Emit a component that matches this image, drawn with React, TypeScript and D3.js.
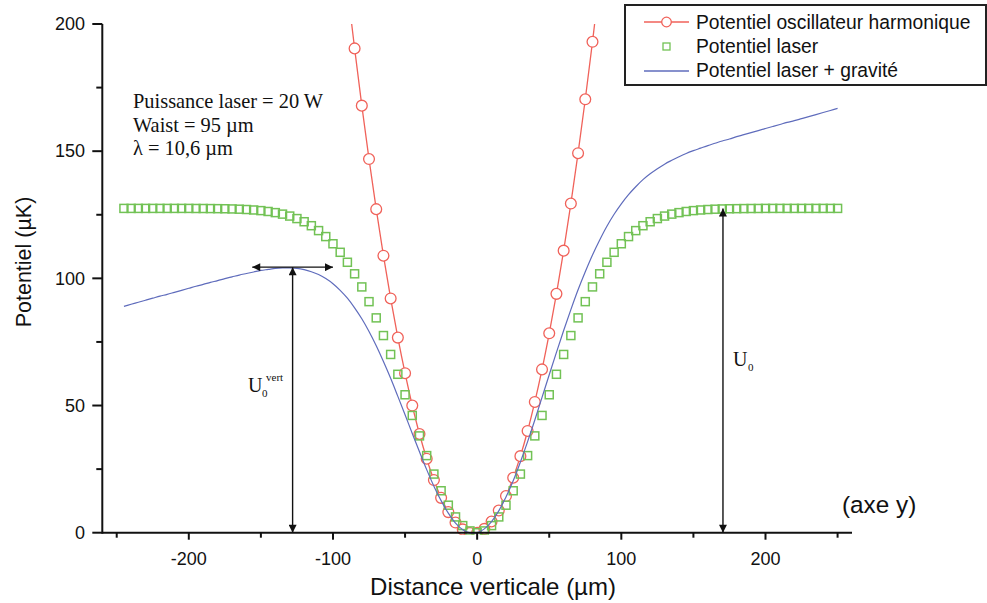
import React from "react";
import * as d3 from "d3";

// ---------- data ----------
const X_GRID = [
  -245, -240, -235, -230, -225, -220, -215, -210, -205, -200,
  -195, -190, -185, -180, -175, -170, -165, -160, -155, -150,
  -145, -140, -135, -130, -125, -120, -115, -110, -105, -100,
  -95, -90, -85, -80, -75, -70, -65, -60, -55, -50,
  -45, -40, -35, -30, -25, -20, -15, -10, -5, 0,
  5, 10, 15, 20, 25, 30, 35, 40, 45, 50,
  55, 60, 65, 70, 75, 80, 85, 90, 95, 100,
  105, 110, 115, 120, 125, 130, 135, 140, 145, 150,
  155, 160, 165, 170, 175, 180, 185, 190, 195, 200,
  205, 210, 215, 220, 225, 230, 235, 240, 245, 250,
];

const LASER = [
  127.5, 127.5, 127.5, 127.5, 127.5, 127.5, 127.5, 127.5, 127.5, 127.5,
  127.47, 127.46, 127.43, 127.4, 127.36, 127.29, 127.19, 127.06, 126.88, 126.63,
  126.29, 125.84, 125.25, 124.49, 123.5, 122.26, 120.7, 118.77, 116.42, 113.6,
  110.24, 106.32, 101.79, 96.63, 90.84, 84.46, 77.51, 70.08, 62.28, 54.23,
  46.1, 38.06, 30.31, 23.05, 16.49, 10.81, 6.2, 2.79, 0.7, 0,
  0.7, 2.79, 6.2, 10.81, 16.49, 23.05, 30.31, 38.06, 46.1, 54.23,
  62.28, 70.08, 77.51, 84.46, 90.84, 96.63, 101.79, 106.32, 110.24, 113.6,
  116.42, 118.77, 120.7, 122.26, 123.5, 124.49, 125.25, 125.84, 126.29, 126.63,
  126.88, 127.06, 127.19, 127.29, 127.36, 127.4, 127.43, 127.46, 127.47, 127.5,
  127.5, 127.5, 127.5, 127.5, 127.5, 127.5, 127.5, 127.5, 127.5, 127.5,
];

const LASER_GRAVITY = [
  89.0, 89.8, 90.6, 91.4, 92.2, 93.0, 93.7, 94.5, 95.3, 96.1,
  96.9, 97.6, 98.4, 99.1, 99.9, 100.6, 101.3, 101.9, 102.5, 103.1,
  103.5, 103.9, 104.1, 104.1, 103.9, 103.4, 102.6, 101.5, 99.9, 97.9,
  95.3, 92.2, 88.4, 84.1, 79.1, 73.5, 67.3, 60.7, 53.6, 46.4,
  39.0, 31.8, 24.8, 18.3, 12.6, 7.7, 3.8, 1.2, -0.1, 0,
  1.5, 4.4, 8.6, 14.0, 20.4, 27.8, 35.8, 44.3, 53.2, 62.1,
  70.9, 79.5, 87.7, 95.5, 102.6, 109.2, 115.1, 120.5, 125.2, 129.3,
  132.9, 136.0, 138.8, 141.1, 143.1, 144.9, 146.4, 147.8, 149.1, 150.2,
  151.2, 152.2, 153.1, 154.0, 154.8, 155.7, 156.5, 157.3, 158.1, 158.9,
  159.7, 160.5, 161.3, 162.0, 162.8, 163.6, 164.4, 165.2, 166.0, 166.8,
];

const HARM_X = [
  -90, -85, -80, -75, -70, -65, -60, -55, -50, -45, -40, -35, -30, -25, -20, -15, -10, -5,
  0, 5, 10, 15, 20, 25, 30, 35, 40, 45, 50, 55, 60, 65, 70, 75, 80, 85,
];
const HARMONIC = [
  214.3, 190.4, 167.9, 146.9, 127.2, 108.9, 92.1, 76.7, 62.7, 50.0, 38.8, 29.1, 20.7, 13.7, 8.1, 4.0, 1.3, -0.1,
  0, 1.5, 4.4, 8.7, 14.4, 21.6, 30.1, 40.0, 51.4, 64.2, 78.4, 93.9, 110.9, 129.4, 149.2, 170.4, 193.0, 217.1,
];

const X_TICKS = [-200, -100, 0, 100, 200];
const X_MINOR = [-250, -150, -50, 50, 150, 250];
const Y_TICKS = [0, 50, 100, 150, 200];
const Y_MINOR = [25, 75, 125, 175];

const LEGEND = [
  "Potentiel oscillateur harmonique",
  "Potentiel laser",
  "Potentiel laser + gravité",
];
const INFO_LINES = ["Puissance laser = 20 W", "Waist = 95 µm", "λ = 10,6 µm"];

// annotation anchors in data units
const U0_VERT_X = -128;
const U0_VERT_TOP = 104.4;
const BAR_X0 = -156;
const BAR_X1 = -100;
const U0_X = 170.5;
const U0_TOP = 127.5;

// ---------- layout ----------
const W = 987;
const H = 603;
const SANS = "'Liberation Sans', Arial, Helvetica, sans-serif";
const SERIF = "'Liberation Serif', 'Times New Roman', serif";
const RED = "#f0625a";
const GREEN = "#72c255";
const BLUE = "#5f6cbc";

export default function App() {
  const x = d3.scaleLinear().domain([-260, 260]).range([102.3, 852]);
  const y = d3.scaleLinear().domain([0, 200]).range([532.7, 24]);

  const laserPts = X_GRID.map((v, i) => [v, LASER[i]] as [number, number]);
  const gravPts = X_GRID.map((v, i) => [v, LASER_GRAVITY[i]] as [number, number]);
  const harmPts = HARM_X.map((v, i) => [v, HARMONIC[i]] as [number, number]);

  const line = d3
    .line<[number, number]>()
    .x((d) => x(d[0]))
    .y((d) => y(d[1]))
    .curve(d3.curveCatmullRom);

  const x0 = x.range()[0];
  const x1 = x.range()[1];
  const y0 = y.range()[0];
  const yTop = y.range()[1];

  return (
    <svg
      width={W}
      height={H}
      style={{ position: "absolute", left: 0, top: 0, background: "#fff" }}
      xmlns="http://www.w3.org/2000/svg"
    >
      <defs>
        <clipPath id="plot">
          <rect x={x0} y={yTop} width={x1 - x0} height={y0 - yTop + 2} />
        </clipPath>
        <marker id="ah" viewBox="0 0 10 10" refX="10" refY="5" markerWidth="9" markerHeight="8"
          markerUnits="userSpaceOnUse" orient="auto-start-reverse">
          <path d="M0,0 L10,5 L0,10 Z" fill="#111" />
        </marker>
      </defs>
      <rect x={0} y={0} width={W} height={H} fill="#fff" />

      {/* series */}
      <g clipPath="url(#plot)">
        <path d={line(harmPts) || ""} fill="none" stroke={RED} strokeWidth={1.3} />
        {harmPts.map((d, i) => (
          <circle key={"h" + i} cx={x(d[0])} cy={y(d[1])} r={5.4} fill="#fff" stroke={RED} strokeWidth={1.3} />
        ))}
        {laserPts.map((d, i) => (
          <rect key={"l" + i} x={x(d[0]) - 4} y={y(d[1]) - 4} width={8} height={8}
            fill="none" stroke={GREEN} strokeWidth={1.5} />
        ))}
        <path d={line(gravPts) || ""} fill="none" stroke={BLUE} strokeWidth={1.2} />
      </g>

      {/* annotations */}
      <line x1={x(U0_VERT_X)} x2={x(U0_VERT_X)} y1={y(0)} y2={y(U0_VERT_TOP)}
        stroke="#111" strokeWidth={1.4} markerStart="url(#ah)" markerEnd="url(#ah)" />
      <line x1={x(BAR_X0)} x2={x(BAR_X1)} y1={y(U0_VERT_TOP)} y2={y(U0_VERT_TOP)}
        stroke="#111" strokeWidth={1.4} markerStart="url(#ah)" markerEnd="url(#ah)" />
      <line x1={x(U0_X)} x2={x(U0_X)} y1={y(0)} y2={y(U0_TOP)}
        stroke="#111" strokeWidth={1.4} markerStart="url(#ah)" markerEnd="url(#ah)" />

      <text x={248} y={392} fontFamily={SERIF} fontSize={20} fill="#111">U</text>
      <text x={262} y={397} fontFamily={SERIF} fontSize={11} fill="#111">0</text>
      <text x={266} y={381} fontFamily={SERIF} fontSize={11} fill="#111">vert</text>

      <text x={733} y={366} fontFamily={SERIF} fontSize={20} fill="#111">U</text>
      <text x={748} y={371} fontFamily={SERIF} fontSize={11} fill="#111">0</text>

      {INFO_LINES.map((t, i) => (
        <text key={t} x={133} y={108 + i * 23.5} fontFamily={SERIF} fontSize={20.4} fill="#111">{t}</text>
      ))}

      <text x={842} y={513} fontFamily={SANS} fontSize={24.3} fill="#111">(axe y)</text>

      {/* axes */}
      <line x1={x0} x2={x1} y1={y0} y2={y0} stroke="#111" strokeWidth={2} />
      <line x1={x0} x2={x0} y1={y0 + 1} y2={yTop} stroke="#111" strokeWidth={2} />
      {X_TICKS.map((t) => (
        <g key={"xt" + t}>
          <line x1={x(t)} x2={x(t)} y1={y0} y2={y0 + 7} stroke="#111" strokeWidth={2} />
          <text x={x(t)} y={565} textAnchor="middle" fontFamily={SANS} fontSize={18} fill="#111">{t}</text>
        </g>
      ))}
      {X_MINOR.map((t) => (
        <line key={"xm" + t} x1={x(t)} x2={x(t)} y1={y0} y2={y0 + 5} stroke="#111" strokeWidth={2} />
      ))}
      {Y_TICKS.map((t) => (
        <g key={"yt" + t}>
          <line x1={x0 - 10} x2={x0} y1={y(t)} y2={y(t)} stroke="#111" strokeWidth={2} />
          <text x={85} y={y(t) + 6.3} textAnchor="end" fontFamily={SANS} fontSize={18} fill="#111">{t}</text>
        </g>
      ))}
      {Y_MINOR.map((t) => (
        <line key={"ym" + t} x1={x0 - 6} x2={x0} y1={y(t)} y2={y(t)} stroke="#111" strokeWidth={2} />
      ))}

      <text x={493} y={595} textAnchor="middle" fontFamily={SANS} fontSize={24} fill="#111">
        Distance verticale (µm)
      </text>
      <text transform="translate(31,262) rotate(-90)" textAnchor="middle" fontFamily={SANS} fontSize={21.5} fill="#111">
        Potentiel (µK)
      </text>

      {/* legend */}
      <rect x={625} y={5} width={361} height={80} fill="#fff" stroke="#222" strokeWidth={2} />
      <line x1={644} x2={689} y1={22} y2={22} stroke={RED} strokeWidth={1.3} />
      <circle cx={666.5} cy={22} r={4.8} fill="#fff" stroke={RED} strokeWidth={1.3} />
      <rect x={663} y={43} width={7} height={7} fill="none" stroke={GREEN} strokeWidth={1.3} />
      <line x1={644} x2={689} y1={71} y2={71} stroke={BLUE} strokeWidth={1.5} />
      {LEGEND.map((t, i) => (
        <text key={t} x={696} y={28.5 + i * 24.3} fontFamily={SANS} fontSize={19.3} fill="#111">{t}</text>
      ))}
    </svg>
  );
}
